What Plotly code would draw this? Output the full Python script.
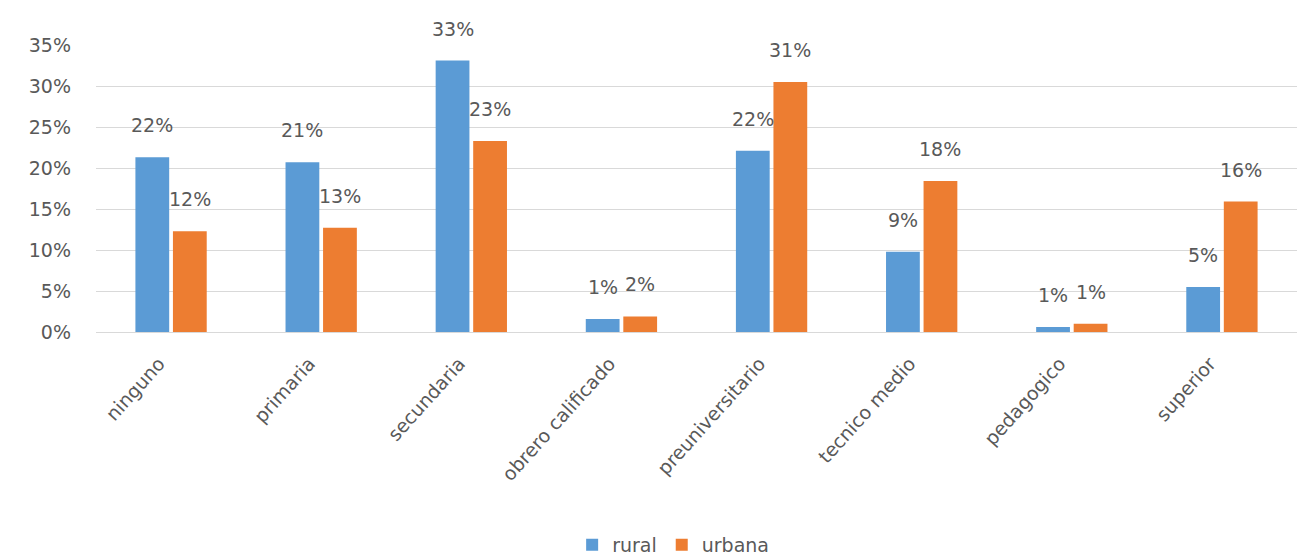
import plotly.graph_objects as go

categories = ["ninguno", "primaria", "secundaria", "obrero calificado",
              "preuniversitario", "tecnico medio", "pedagogico", "superior"]
rural = [0.213, 0.207, 0.331, 0.016, 0.221, 0.098, 0.006, 0.055]
urbana = [0.123, 0.127, 0.233, 0.019, 0.305, 0.184, 0.010, 0.159]
rural_labels = ["22%", "21%", "33%", "1%", "22%", "9%", "1%", "5%"]
urbana_labels = ["12%", "13%", "23%", "2%", "31%", "18%", "1%", "16%"]
y_ticks = [0, 0.05, 0.10, 0.15, 0.20, 0.25, 0.30, 0.35]
y_tick_labels = ["0%", "5%", "10%", "15%", "20%", "25%", "30%", "35%"]

FONT = "'DejaVu Sans', sans-serif"
GREY = "#595959"
FS = 19
BAR_OFFSET_PX = 18.75   # half of a bar slot (styling offset)
LABEL_GAP_PX = 19

fig = go.Figure()
fig.add_trace(go.Bar(
    name="rural", x=categories, y=rural,
    marker=dict(color="#5B9BD5", line=dict(width=0)),
))
fig.add_trace(go.Bar(
    name="urbana", x=categories, y=urbana,
    marker=dict(color="#ED7D31", line=dict(width=0)),
))

for cat, val, lab in zip(categories, rural, rural_labels):
    fig.add_annotation(x=cat, y=val, text=lab, showarrow=False,
                       xshift=-BAR_OFFSET_PX, yshift=LABEL_GAP_PX,
                       yanchor="bottom", xanchor="center",
                       font=dict(size=FS, color=GREY, family=FONT))
for cat, val, lab in zip(categories, urbana, urbana_labels):
    fig.add_annotation(x=cat, y=val, text=lab, showarrow=False,
                       xshift=BAR_OFFSET_PX, yshift=LABEL_GAP_PX,
                       yanchor="bottom", xanchor="center",
                       font=dict(size=FS, color=GREY, family=FONT))

fig.update_layout(
    width=1297, height=556,
    margin=dict(l=96, r=0, t=45, b=224),
    paper_bgcolor="white", plot_bgcolor="white",
    barmode="group", bargap=0.5, bargroupgap=0.1,
    font=dict(family=FONT, color=GREY, size=FS),
    showlegend=True,
    legend=dict(orientation="h", xref="container", x=0.519, xanchor="center",
                yref="container", y=0.02, yanchor="middle",
                font=dict(size=FS, color=GREY, family=FONT),
                itemwidth=30, traceorder="normal"),
    xaxis=dict(tickangle=-48, showgrid=False, showline=True,
               linecolor="#D9D9D9", linewidth=1,
               ticklabelstandoff=12, ticklabelshift=-12,
               tickfont=dict(size=FS, color=GREY, family=FONT)),
    yaxis=dict(range=[0, 0.35], tickvals=y_ticks, ticktext=y_tick_labels,
               showgrid=True, gridcolor="#D9D9D9", gridwidth=1,
               zeroline=False, showline=False,
               ticklabelstandoff=24,
               tickfont=dict(size=FS, color=GREY, family=FONT)),
)

fig.write_html("out.html", config={"displayModeBar": False},
               post_script="document.body.style.margin='0';document.body.style.overflow='hidden';")
